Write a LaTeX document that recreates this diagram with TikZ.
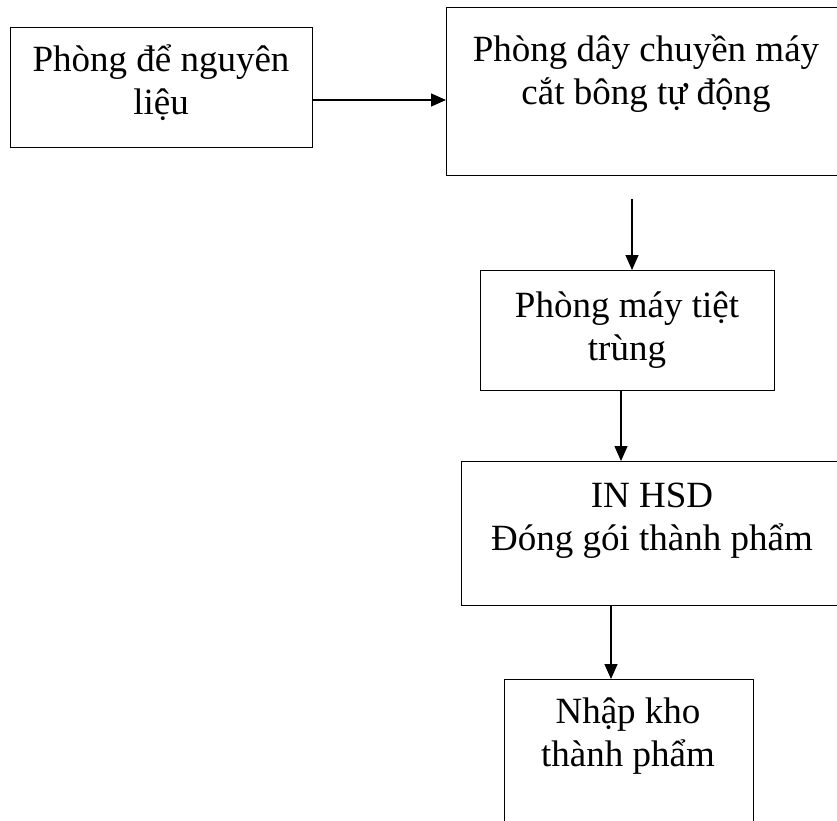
\documentclass[tikz,border=0pt]{standalone}
\usepackage{fontspec}
\setmainfont{Liberation Serif}
\usetikzlibrary{arrows.meta}
\newcommand\twoln[2]{\vtop{\baselineskip=43pt\halign{\hfil##\hfil\cr#1\cr#2\cr}}}
\begin{document}
\begin{tikzpicture}[x=1pt,y=-1pt,
  boxnode/.style={draw=black, line width=1.4pt, rectangle, inner sep=0pt, anchor=north west},
  lbl/.style={inner sep=0pt, anchor=base, font=\fontsize{37}{43}\selectfont},
  flow/.style={line width=1.3pt, -{Triangle[length=15pt,width=13pt]}}]
\useasboundingbox (0,0) rectangle (837,820);
\clip (0,0) rectangle (837,820);
\fill[white] (0,0) rectangle (837,820);
% boxes
\node[boxnode, minimum width=302pt, minimum height=120pt] (b1) at (10,27) {};
\node[boxnode, minimum width=410pt, minimum height=168pt] (b2) at (446,7) {};
\node[boxnode, minimum width=294pt, minimum height=120pt] (b3) at (480,270) {};
\node[boxnode, minimum width=400pt, minimum height=144pt] (b4) at (461,461) {};
\node[boxnode, minimum width=249pt, minimum height=170pt] (b5) at (504,679) {};
% texts
\node[lbl] (t1) at (161,71) {\twoln{Phòng để nguyên}{liệu}};
\node[lbl] (t2) at (646,61) {\twoln{Phòng dây chuyền máy}{cắt bông tự động}};
\node[lbl] (t3) at (627,317) {\twoln{Phòng máy tiệt}{trùng}};
\node[lbl] (t4) at (652,507) {\twoln{IN HSD}{Đóng gói thành phẩm}};
\node[lbl] (t5) at (628,723) {\twoln{Nhập kho}{thành phẩm}};
% connectors
\coordinate (s2) at (632,199);
\draw[flow] (b1.east |- 0,100) -- (b2.west |- 0,100);
\draw[flow] (s2) -- (s2 |- b3.north);
\draw[flow] (621,0 |- b3.south) -- (621,0 |- b4.north);
\draw[flow] (611,0 |- b4.south) -- (611,0 |- b5.north);
\end{tikzpicture}
\end{document}
